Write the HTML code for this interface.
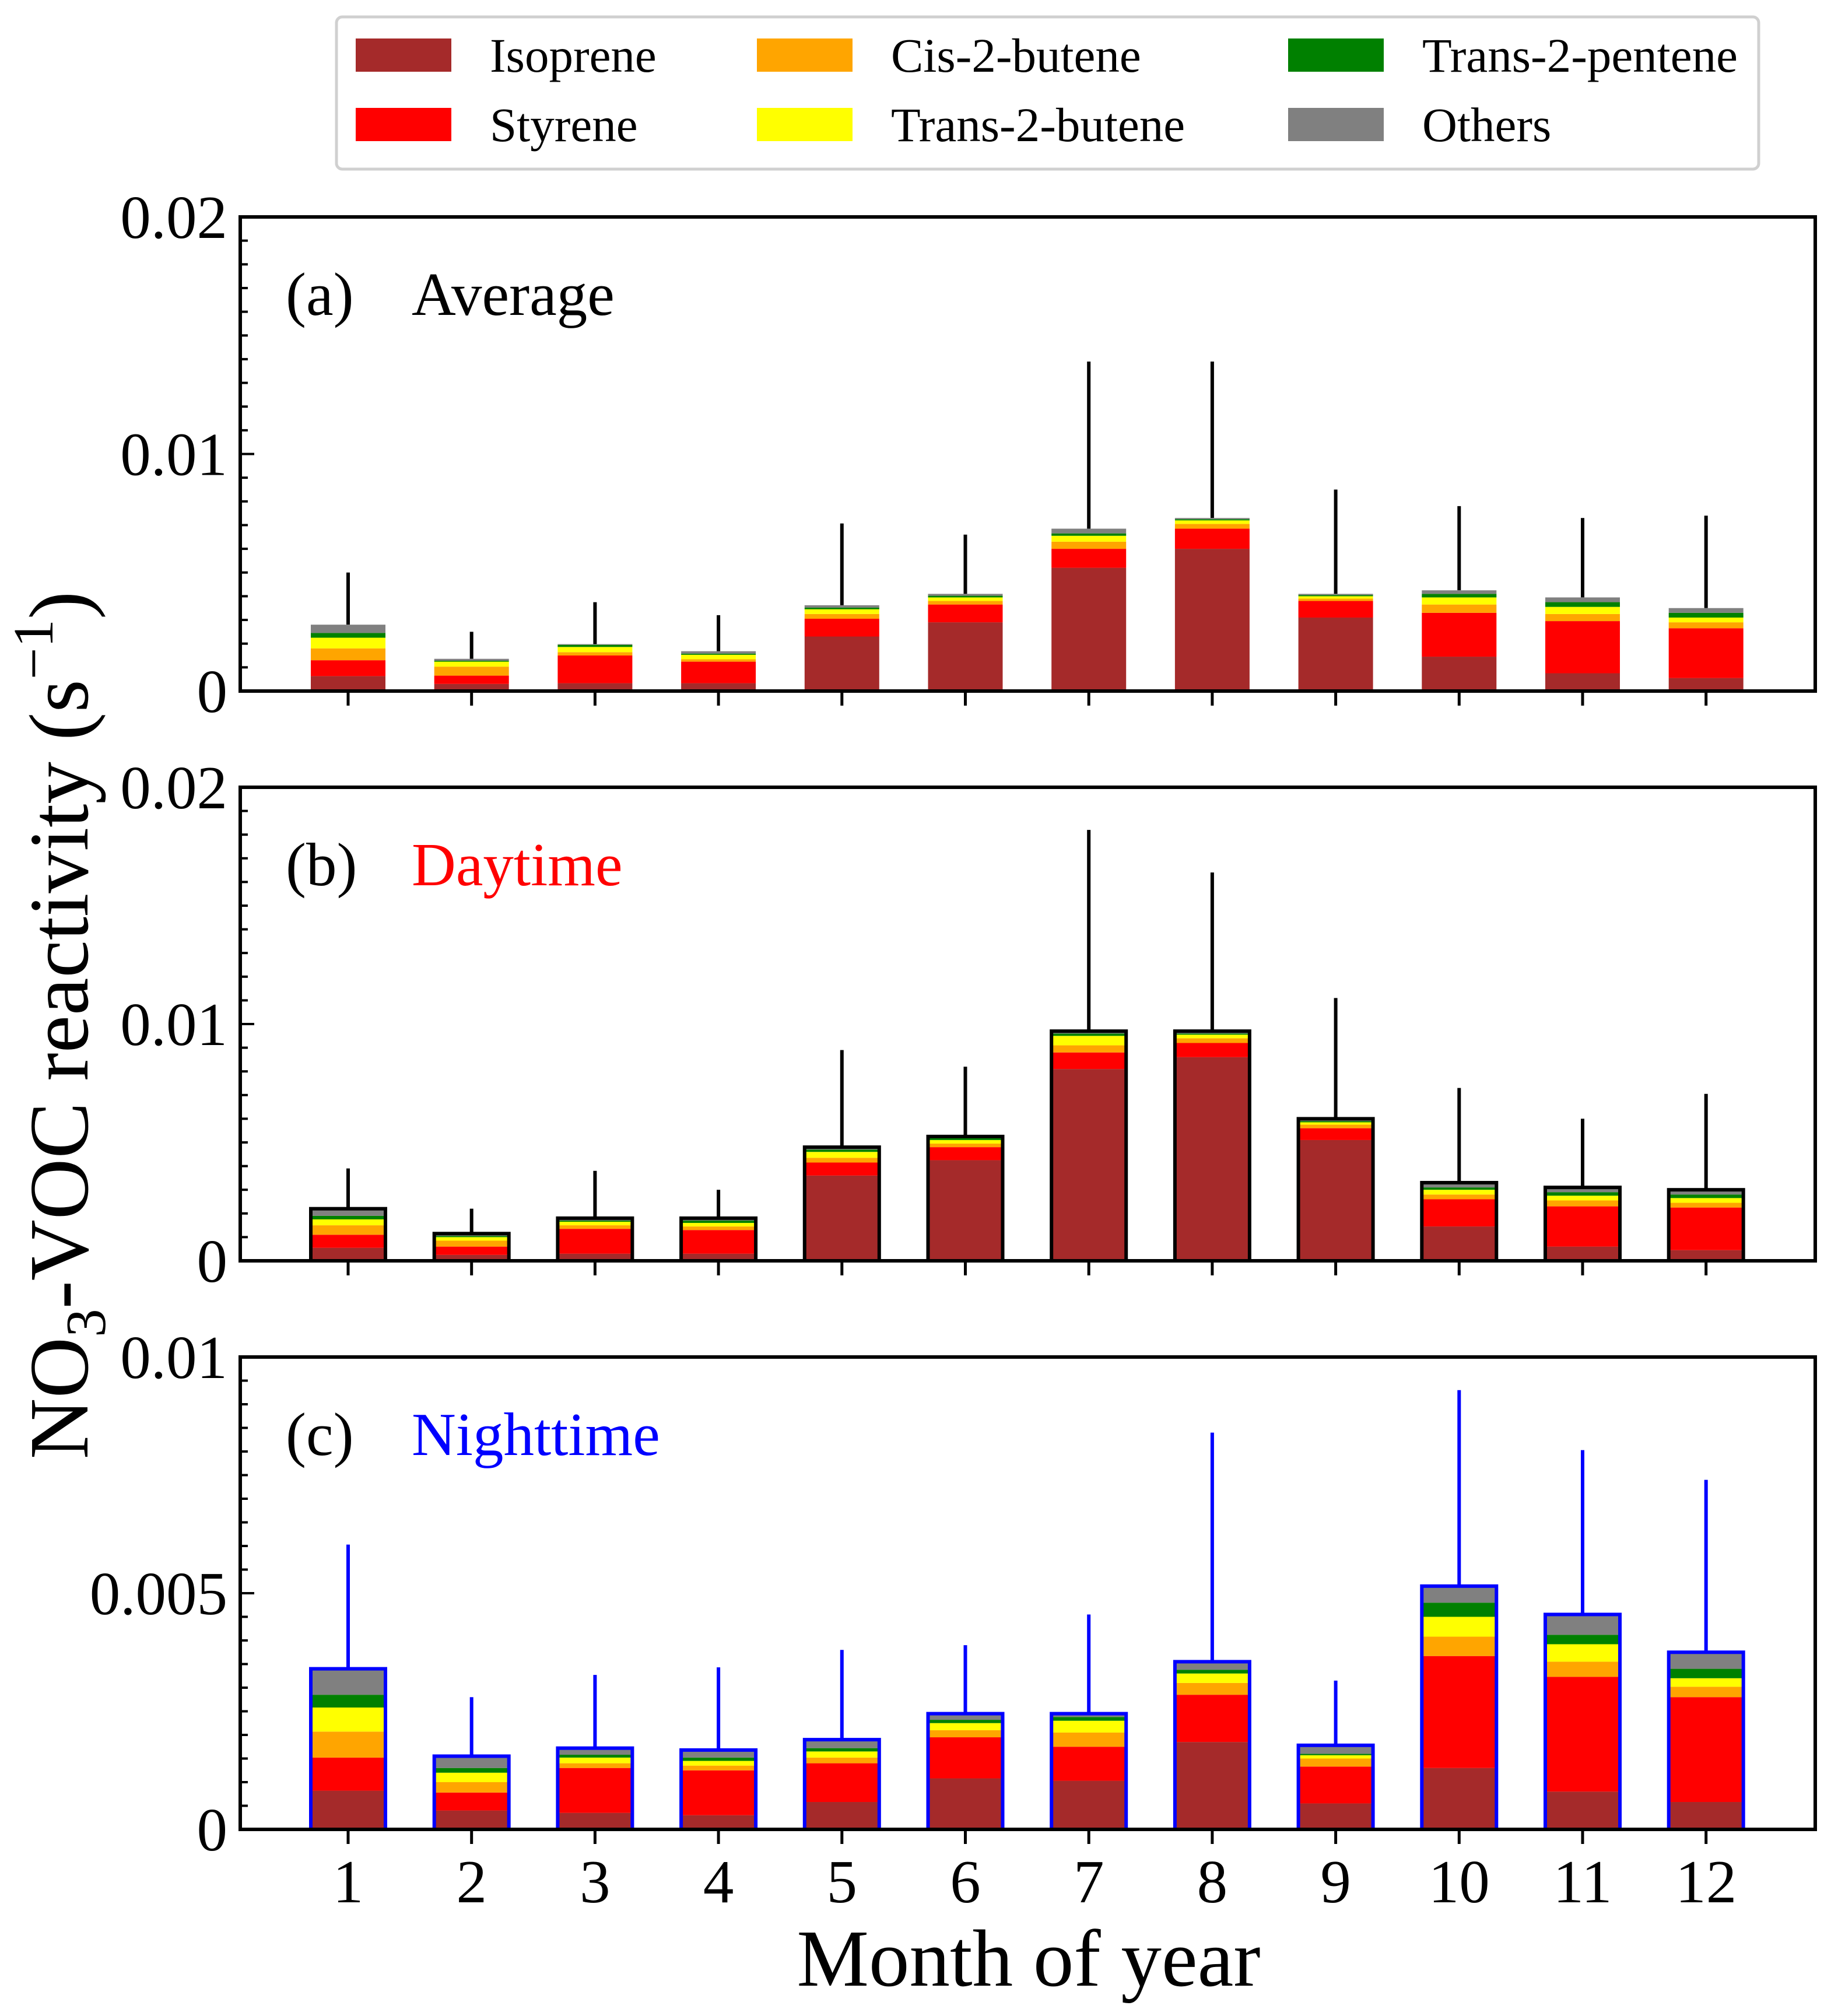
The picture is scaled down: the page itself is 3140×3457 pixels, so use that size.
<!DOCTYPE html>
<html><head><meta charset="utf-8">
<style>
html,body{margin:0;padding:0;background:#fff;}
svg{display:block;font-family:"Liberation Serif",serif;}
</style></head>
<body>
<svg id="chart" width="3140" height="3457" viewBox="0 0 3140 3457" xmlns="http://www.w3.org/2000/svg">
  <g id="legend">
    <rect x="577" y="29" width="2439" height="261" rx="10" fill="#fff" stroke="#d0d0d0" stroke-width="5"/>
  </g>
  <g id="panels"></g>
  <text transform="translate(150,1758) rotate(-90)" text-anchor="middle" font-size="145">NO<tspan font-size="97" dy="30">3</tspan><tspan dy="-30">-VOC reactivity (s</tspan><tspan font-size="97" dy="-60">−1</tspan><tspan dy="60">)</tspan></text>
  <text x="1764" y="3405" text-anchor="middle" font-size="139">Month of year</text>
</svg>
<script>
const months = [1,2,3,4,5,6,7,8,9,10,11,12];
const seriesNames = ["Isoprene","Styrene","Cis-2-butene","Trans-2-butene","Trans-2-pentene","Others"];
const seriesColors = ["#a52a2a","#ff0000","#ffa500","#ffff00","#008000","#808080"];
// cumulative tops (x1e-3) for each series, per panel
const avgIsoprene = [0.63,0.30,0.33,0.33,2.30,2.90,5.20,6.00,3.10,1.45,0.75,0.55];
const avgStyrene  = [1.30,0.65,1.50,1.24,3.05,3.65,6.00,6.85,3.80,3.30,2.95,2.65];
const avgCis      = [1.80,1.03,1.64,1.34,3.25,3.80,6.30,7.05,3.90,3.65,3.25,2.90];
const avgTransB   = [2.25,1.24,1.86,1.53,3.45,3.95,6.55,7.20,4.00,3.95,3.55,3.10];
const avgTransP   = [2.45,1.28,1.95,1.58,3.52,4.02,6.65,7.25,4.05,4.10,3.75,3.30];
const avgOthers   = [2.80,1.36,1.98,1.68,3.62,4.10,6.85,7.30,4.10,4.25,3.95,3.50];
const avgErr      = [5.00,2.50,3.75,3.20,7.07,6.60,13.9,13.9,8.50,7.80,7.30,7.40];

const dayIsoprene = [0.55,0.25,0.30,0.30,3.60,4.25,8.10,8.60,5.10,1.45,0.60,0.45];
const dayStyrene  = [1.10,0.60,1.35,1.30,4.15,4.80,8.80,9.20,5.60,2.60,2.30,2.25];
const dayCis      = [1.50,0.85,1.50,1.45,4.35,4.95,9.10,9.40,5.75,2.80,2.55,2.45];
const dayTransB   = [1.75,1.00,1.65,1.60,4.60,5.10,9.50,9.55,5.85,3.00,2.75,2.65];
const dayTransP   = [1.90,1.05,1.70,1.70,4.70,5.20,9.60,9.60,5.90,3.10,2.90,2.80];
const dayOthers   = [2.20,1.15,1.80,1.80,4.80,5.25,9.70,9.70,6.00,3.30,3.10,3.00];
const dayErr      = [3.90,2.20,3.80,3.00,8.90,8.20,18.2,16.4,11.1,7.30,6.00,7.05];

const nightIsoprene = [0.82,0.40,0.35,0.30,0.58,1.08,1.03,1.85,0.55,1.30,0.80,0.58];
const nightStyrene  = [1.52,0.78,1.30,1.25,1.40,1.95,1.75,2.85,1.33,3.67,3.23,2.80];
const nightCis      = [2.07,1.00,1.40,1.35,1.52,2.10,2.05,3.10,1.50,4.08,3.55,3.02];
const nightTransB   = [2.58,1.20,1.52,1.45,1.65,2.25,2.30,3.30,1.57,4.50,3.92,3.20];
const nightTransP   = [2.85,1.30,1.58,1.52,1.72,2.32,2.38,3.38,1.60,4.80,4.12,3.40];
const nightOthers   = [3.40,1.55,1.72,1.68,1.90,2.45,2.45,3.55,1.78,5.15,4.55,3.75];
const nightErr      = [6.03,2.80,3.27,3.43,3.80,3.90,4.55,8.40,3.15,9.30,8.03,7.40];

const yTicksAB = ["0","0.01","0.02"];
const yTicksC = ["0","0.005","0.01"];

const NS = "http://www.w3.org/2000/svg";
const svg = document.getElementById('chart');
const panelsG = document.getElementById('panels');
const legendG = document.getElementById('legend');
function mk(tag, attrs, parent){const e=document.createElementNS(NS,tag);for(const k in attrs)e.setAttribute(k,attrs[k]);(parent||svg).appendChild(e);return e;}

// legend
const legCols=[610,1298,2209], legRows=[95,214];
seriesNames.forEach((n,i)=>{
  const c=Math.floor(i/2), r=i%2;
  const g=mk('g',{},legendG);
  
  
  mk('rect',{x:legCols[c],y:legRows[r]-29,width:164,height:57,fill:seriesColors[i]},g);
  const t=mk('text',{x:legCols[c]+230,y:legRows[r]+28,'font-size':83},g);
  t.textContent=n;
});

const L=412,R=3113;
function xScale(m){return 597+(m-1)*211.7;}
const panels=[
 {name:'average',top:372,bot:1185,max:20,label:'(a)',title:'Average',tcol:'#000',edge:null,err:'#000',ticks:yTicksAB,major:10,minor:1,
  data:[avgIsoprene,avgStyrene,avgCis,avgTransB,avgTransP,avgOthers],errv:avgErr},
 {name:'daytime',top:1350,bot:2162,max:20,label:'(b)',title:'Daytime',tcol:'#ff0000',edge:'#000',err:'#000',ticks:yTicksAB,major:10,minor:1,
  data:[dayIsoprene,dayStyrene,dayCis,dayTransB,dayTransP,dayOthers],errv:dayErr},
 {name:'nighttime',top:2327,bot:3137,max:10,label:'(c)',title:'Nighttime',tcol:'#0000ff',edge:'#0000ff',err:'#0000ff',ticks:yTicksC,major:5,minor:0.5,
  data:[nightIsoprene,nightStyrene,nightCis,nightTransB,nightTransP,nightOthers],errv:nightErr}
];
const BW=128;
panels.forEach(p=>{
  const g=mk('g',{},panelsG);
  
  
  const y=v=>p.bot-(v/p.max)*(p.bot-p.top);
  months.forEach((m,i)=>{
    const cx=xScale(m);
    const eb=mk('line',{x1:cx,x2:cx,y1:y(p.data[5][i]),y2:y(p.errv[i]),stroke:p.err,'stroke-width':6},g);
    
    
    let prev=0;
    p.data.forEach((s,k)=>{
      const v=s[i];
      const r=mk('rect',{x:cx-BW/2,y:y(v),width:BW,height:Math.max(0,y(prev)-y(v)),fill:seriesColors[k]},g);
      
      
      prev=v;
    });
    if(p.edge){
      const o=mk('rect',{x:cx-BW/2,y:y(p.data[5][i]),width:BW,height:y(0)-y(p.data[5][i]),fill:'none',stroke:p.edge,'stroke-width':6},g);
      
      
    }
    const tk=mk('line',{x1:cx,x2:cx,y1:p.bot,y2:p.bot+25,stroke:'#000','stroke-width':5},g);
    
    
  });
  for(let v=0;v<=p.max+1e-9;v+=p.minor){
    const isMaj=Math.abs(v/p.major-Math.round(v/p.major))<1e-6;
    const t=mk('line',{x1:L,x2:L+(isMaj?24:13),y1:y(v),y2:y(v),stroke:'#000','stroke-width':4},g);
    
    
  }
  p.ticks.forEach((lab,j)=>{
    const t=mk('text',{x:390,y:y(j*p.major)+36,'text-anchor':'end','font-size':105},g);
    
    
    t.textContent=lab;
  });
  const fr=mk('rect',{x:L,y:p.top,width:R-L,height:p.bot-p.top,fill:'none',stroke:'#000','stroke-width':6},g);
  
  
  const pl=mk('text',{x:490,y:p.top+168,'font-size':105},g);
  
  
  pl.textContent=p.label;
  const pt=mk('text',{x:706,y:p.top+168,'font-size':105,fill:p.tcol},g);
  
  
  pt.textContent=p.title;
});
months.forEach(m=>{
  const t=mk('text',{x:xScale(m),y:3262,'text-anchor':'middle','font-size':105});
  
  
  t.textContent=m;
});
</script>
</body></html>
